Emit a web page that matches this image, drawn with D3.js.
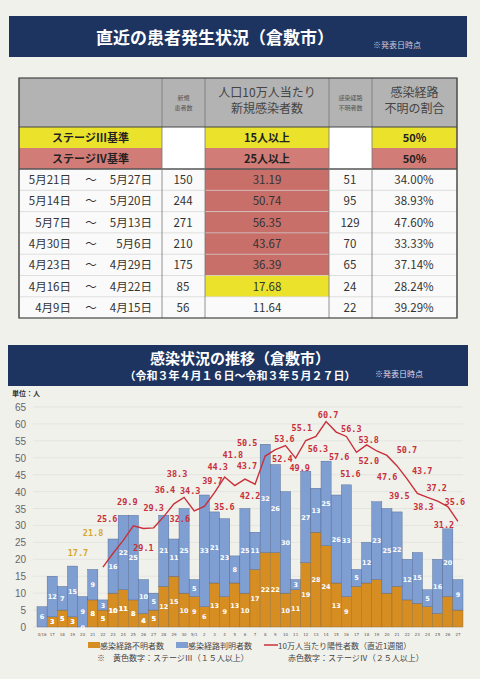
<!DOCTYPE html>
<html><head><meta charset="utf-8">
<script src="https://cdn.jsdelivr.net/npm/d3@7"></script>
<style>body{margin:0;background:#f1f1ec}svg{display:block}</style>
</head><body>
<svg id="c" width="480" height="679"></svg>
<script>
// table data
var periods=[["5月21日","5月27日"],["5月14日","5月20日"],["5月7日","5月13日"],["4月30日","5月6日"],["4月23日","4月29日"],["4月16日","4月22日"],["4月9日","4月15日"]];
var newCases=[150,244,271,210,175,85,56];
var per100k=["31.19","50.74","56.35","43.67","36.39","17.68","11.64"];
var unknownCount=[51,95,129,70,65,24,22];
var unknownRate=["34.00%","38.93%","47.60%","33.33%","37.14%","28.24%","39.29%"];

// chart data
var days=["4/16","17","18","19","20","21","22","23","24","25","26","27","28","29","30","5/1","2","3","4","5","6","7","8","9","10","11","12","13","14","15","16","17","18","19","20","21","22","23","24","25","26","27"];
var unknown=[0,3,5,3,0,8,5,10,11,8,4,5,12,15,10,9,6,13,9,13,10,17,22,22,10,11,19,28,24,13,9,12,13,14,10,12,8,7,6,4,9,5];
var known=[6,12,7,15,9,9,3,16,22,25,10,5,21,11,25,5,33,21,23,8,25,11,32,26,30,3,27,13,25,26,33,5,12,23,25,22,12,15,5,16,20,9];
var rate=[null,null,null,null,null,null,17.7,21.8,25.6,29.9,29.1,29.3,32.6,36.4,38.3,34.3,35.6,39.7,44.3,41.8,43.7,42.2,50.5,52.4,53.6,49.9,55.1,56.3,60.7,57.6,56.3,51.6,53.8,52.0,50.7,47.6,43.7,39.5,38.3,37.2,35.6,31.2];
var yTicks=[0,5,10,15,20,25,30,35,40,45,50,55,60,65];
// label offsets [dx,dy] for rate labels
var lblOff=[[0,0],[0,0],[0,0],[0,0],[0,0],[0,0],[-25,-14],[-20,-20],[-16,-21],[-6,-24],[0,19],[0,-20],[16,2],[-9,-14],[-7,-23],[-4,-20],[20,0],[-2,-12],[-7,-10],[-2,-31],[2,-13],[-5,12],[-18,-13],[7,9],[-1,-7],[4,10],[-4,-13],[2,13],[2,-7],[3,25],[5,-7],[-6,22],[2,-5],[-8,10],[20,-5],[-10,11],[15,-8],[-18,3],[-4,10],[-1,-13],[7,-5],[-14,4]];

var svg=d3.select("#c");
var FONT="'Noto Sans CJK JP','Noto Sans',sans-serif";
var navy="#1d3461";

// top banner
svg.append("rect").attr("x",9).attr("y",16).attr("width",458).attr("height",41).attr("fill",navy);
svg.append("text").attr("x",215).attr("y",44).attr("text-anchor","middle").attr("fill","#fff")
  .style("font-family",FONT).style("font-size","17px").style("font-weight","bold").text("直近の患者発生状況（倉敷市）");
svg.append("text").attr("x",373).attr("y",48).attr("fill","#ccd").style("font-family",FONT).style("font-size","8px").text("※発表日時点");

// table
var cols=[19,162,205,329,372,457];
var tb=svg.append("g").style("font-family",FONT);
var yellow="#ebe22c",pink="#d27c77",red="#c86f6a";
tb.append("rect").attr("x",19).attr("y",78).attr("width",438).attr("height",49).attr("fill","#b3b3b3");
function hdr(ci,lines,size,col){
  var cx=(cols[ci]+cols[ci+1])/2;
  lines.forEach(function(t,i){
    tb.append("text").attr("x",cx).attr("y",(size>10?97:100)+i*(size+4)).attr("text-anchor","middle")
      .attr("fill",col).style("font-size",size+"px").text(t);
  });
}
hdr(1,["新規","患者数"],6,"#555");
hdr(2,["人口10万人当たり","新規感染者数"],12,"#444");
hdr(3,["感染経路","不明者数"],6,"#555");
hdr(4,["感染経路","不明の割合"],12,"#444");
// stage rows
var stageRows=[["ステージⅢ基準","15人以上","50%",yellow],["ステージⅣ基準","25人以上","50%",pink]];
stageRows.forEach(function(s,i){
  var y=127+i*21;
  [[0,s[0]],[2,s[1]],[4,s[2]]].forEach(function(c){
    tb.append("rect").attr("x",cols[c[0]]).attr("y",y).attr("width",cols[c[0]+1]-cols[c[0]]).attr("height",21).attr("fill",s[3]);
    tb.append("text").attr("x",(cols[c[0]]+cols[c[0]+1])/2).attr("y",y+15).attr("text-anchor","middle")
      .attr("fill","#222").style("font-size","11px").style("font-weight","bold").text(c[1]);
  });
  [1,3].forEach(function(ci){
    tb.append("rect").attr("x",cols[ci]).attr("y",y).attr("width",cols[ci+1]-cols[ci]).attr("height",21).attr("fill","#fff");
  });
});
var rowH=21.3;
periods.forEach(function(p,i){
  var y=169+i*rowH;
  tb.append("rect").attr("x",19).attr("y",y).attr("width",438).attr("height",rowH).attr("fill","#fafafa");
  var bg=i<5?red:(i==5?yellow:null);
  if(bg) tb.append("rect").attr("x",cols[2]).attr("y",y).attr("width",cols[3]-cols[2]).attr("height",rowH).attr("fill",bg);
  var ty=y+15;
  function t(x,s,anchor){tb.append("text").attr("x",x).attr("y",ty).attr("text-anchor",anchor||"middle").attr("fill","#333").style("font-size","11.5px").text(s);}
  t(71,p[0],"end");t(91,"～");t(152,p[1],"end");
  t(183,newCases[i]);t(267,per100k[i]);t(350,unknownCount[i]);t(414,unknownRate[i]);
  tb.append("line").attr("x1",19).attr("x2",457).attr("y1",y).attr("y2",y).attr("stroke",i==0?"#555":"#ccc").attr("stroke-width",i==0?1.5:0.6);
});
cols.forEach(function(x){
  tb.append("line").attr("x1",x).attr("x2",x).attr("y1",78).attr("y2",318).attr("stroke","#777").attr("stroke-width",0.8);
});
tb.append("rect").attr("x",19).attr("y",78).attr("width",438).attr("height",240).attr("fill","none").attr("stroke","#444").attr("stroke-width",1.2);
tb.append("line").attr("x1",19).attr("x2",457).attr("y1",127).attr("y2",127).attr("stroke","#444");

// chart banner
svg.append("rect").attr("x",8).attr("y",345).attr("width",460).attr("height",41).attr("fill",navy);
svg.append("text").attr("x",240).attr("y",364).attr("text-anchor","middle").attr("fill","#fff")
  .style("font-family",FONT).style("font-size","15px").style("font-weight","bold").text("感染状況の推移（倉敷市）");
svg.append("text").attr("x",240).attr("y",380).attr("text-anchor","middle").attr("fill","#fff")
  .style("font-family",FONT).style("font-size","11px").style("font-weight","bold").text("（令和３年４月１６日〜令和３年５月２７日）");
svg.append("text").attr("x",375).attr("y",377).attr("fill","#dde").style("font-family",FONT).style("font-size","8px").text("※発表日時点");
svg.append("text").attr("x",12).attr("y",396).attr("fill","#333").style("font-family",FONT).style("font-size","7px").style("font-weight","bold").text("単位：人");

// scales
var x=d3.scaleBand().domain(days.map(function(d,i){return i;})).range([37,463]).paddingInner(0);
var y=d3.scaleLinear().domain([0,65]).range([627,407]);
var g=svg.append("g");
g.selectAll(".grid").data(yTicks).enter().append("line").attr("x1",33).attr("x2",463)
  .attr("y1",function(d){return y(d);}).attr("y2",function(d){return y(d);}).attr("stroke","#dcdcd8").attr("stroke-width",0.6);
g.selectAll(".yt").data(yTicks).enter().append("text").attr("x",26).attr("y",function(d){return y(d)+4;})
  .attr("text-anchor","end").attr("fill","#666").style("font-family","'Liberation Sans',sans-serif").style("font-size","10px").text(function(d){return d;});

var orange="#d68d22",blue="#7f9fd2";
var bars=g.selectAll(".b").data(days).enter().append("g");
bars.append("rect").attr("x",function(d,i){return x(i);}).attr("width",x.bandwidth())
  .attr("y",function(d,i){return y(unknown[i]);}).attr("height",function(d,i){return y(0)-y(unknown[i]);})
  .attr("fill",orange).attr("stroke","#8a6a3a").attr("stroke-width",0.4);
bars.append("rect").attr("x",function(d,i){return x(i);}).attr("width",x.bandwidth())
  .attr("y",function(d,i){return y(unknown[i]+known[i]);}).attr("height",function(d,i){return y(unknown[i])-y(unknown[i]+known[i]);})
  .attr("fill",blue).attr("stroke","#4a5f8a").attr("stroke-width",0.4);
bars.filter(function(d,i){return unknown[i]>0;}).append("text")
  .attr("x",function(d){var i=days.indexOf(d);return x(i)+x.bandwidth()/2;})
  .attr("y",function(d){var i=days.indexOf(d);return y(unknown[i]/2)+2.5;})
  .attr("text-anchor","middle").attr("fill","#fff").style("font-family","'DejaVu Sans',sans-serif").style("font-size","6.5px").style("font-weight","bold")
  .text(function(d){return unknown[days.indexOf(d)];});
bars.append("text")
  .attr("x",function(d,i){return x(i)+x.bandwidth()/2;})
  .attr("y",function(d,i){return y(unknown[i]+known[i]/2)+2.5;})
  .attr("text-anchor","middle").attr("fill","#fff").style("font-family","'DejaVu Sans',sans-serif").style("font-size","6.5px").style("font-weight","bold")
  .text(function(d,i){return known[i];});
bars.append("text").attr("x",function(d,i){return x(i)+x.bandwidth()/2;}).attr("y",636)
  .attr("text-anchor","middle").attr("fill","#555").style("font-family","'DejaVu Sans',sans-serif").style("font-size","4px").text(function(d){return d;});

// rate line
var pts=rate.map(function(v,i){return v==null?null:[x(i)+x.bandwidth()/2,y(v),v,i];}).filter(function(p){return p;});
g.append("path").datum(pts).attr("d",d3.line().x(function(p){return p[0];}).y(function(p){return p[1];}))
  .attr("fill","none").attr("stroke","#c8303a").attr("stroke-width",1.4);
g.selectAll(".rl").data(pts).enter().append("text")
  .attr("x",function(p){return p[0]+lblOff[p[3]][0];}).attr("y",function(p){return p[1]+lblOff[p[3]][1]+3;})
  .attr("text-anchor","middle").attr("fill",function(p){return p[2]<25?"#d6a72c":"#c8303a";})
  .style("font-family","'DejaVu Sans Mono',monospace").style("font-size","8.5px").style("font-weight","bold")
  .text(function(p){return p[2].toFixed(1);});

// legend
var lg=svg.append("g").style("font-family",FONT).style("font-size","8px").attr("fill","#444");
lg.append("rect").attr("x",88).attr("y",642).attr("width",12).attr("height",6).attr("fill",orange);
lg.append("text").attr("x",100).attr("y",649).text("感染経路不明者数");
lg.append("rect").attr("x",176).attr("y",642).attr("width",12).attr("height",6).attr("fill",blue);
lg.append("text").attr("x",188).attr("y",649).text("感染経路判明者数");
lg.append("line").attr("x1",264).attr("x2",278).attr("y1",645).attr("y2",645).attr("stroke","#c8303a").attr("stroke-width",1.5);
lg.append("text").attr("x",278).attr("y",649).text("10万人当たり陽性者数（直近1週間）");
lg.append("text").attr("x",97).attr("y",661).text("※　黄色数字：ステージⅢ（１５人以上）");
lg.append("text").attr("x",288).attr("y",661).text("赤色数字：ステージⅣ（２５人以上）");
</script>
</body></html>
